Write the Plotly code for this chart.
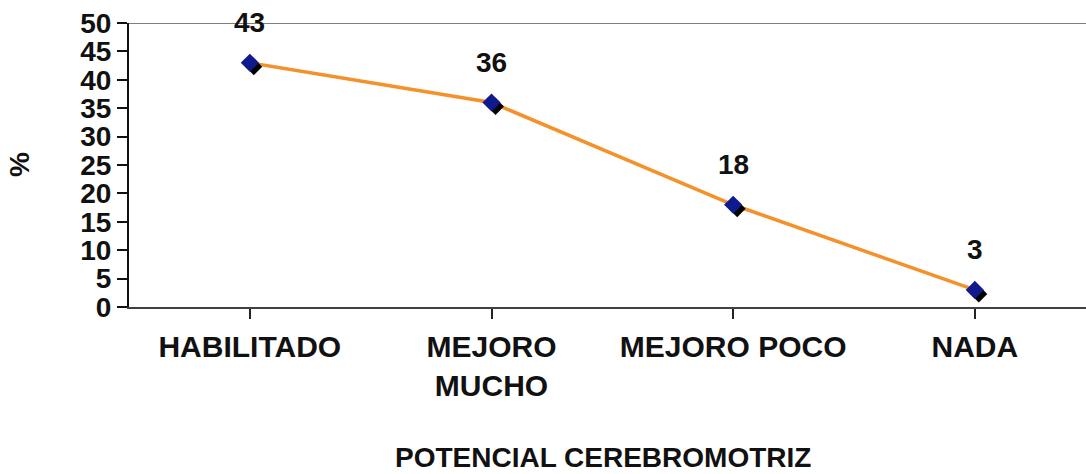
import plotly.graph_objects as go

# Potencial cerebromotriz: porcentaje por categoría
categorias = ["HABILITADO", "MEJORO<br>MUCHO", "MEJORO POCO", "NADA"]
porcentajes = [43, 36, 18, 3]
y_ticks = [0, 5, 10, 15, 20, 25, 30, 35, 40, 45, 50]

FONT = "Liberation Sans, Arial, sans-serif"
W, H = 1086, 474
M_L, M_R, M_T, M_B = 129, 0, 23, 167
X_RANGE = [-0.5, 3.46]
Y_RANGE = [0, 50]

plot_w = W - M_L - M_R
plot_h = H - M_T - M_B
px_per_x = plot_w / (X_RANGE[1] - X_RANGE[0])
px_per_y = plot_h / (Y_RANGE[1] - Y_RANGE[0])

# small drop shadow behind each marker (offset in pixels, converted to data units)
sh_dx, sh_dy = 4 / px_per_x, 4 / px_per_y
xi = list(range(len(categorias)))

fig = go.Figure()

fig.add_trace(go.Scatter(
    x=xi, y=porcentajes, mode="lines",
    line=dict(color="#F4912A", width=3.5),
    hoverinfo="skip", showlegend=False,
))
fig.add_trace(go.Scatter(
    x=[v + sh_dx for v in xi], y=[p - sh_dy for p in porcentajes], mode="markers",
    marker=dict(symbol="diamond", size=13, color="#000000"),
    hoverinfo="skip", showlegend=False, cliponaxis=False,
))
fig.add_trace(go.Scatter(
    x=xi, y=porcentajes, mode="markers",
    marker=dict(symbol="diamond", size=14, color="#0F1B8C"),
    showlegend=False, cliponaxis=False,
))

# value labels above each point
for i, p in zip(xi, porcentajes):
    fig.add_annotation(
        x=i, y=p, text=str(p), showarrow=False, yshift=40,
        font=dict(family=FONT, size=28, color="#111111", weight="bold"),
    )

# top border of the plot area
fig.add_shape(type="line", xref="paper", yref="y", x0=0, x1=1, y0=50, y1=50,
              line=dict(color="#7F7F7F", width=2), layer="below")

# axis titles
fig.add_annotation(
    xref="paper", yref="paper", x=0.495, y=0, xanchor="center", yanchor="middle",
    yshift=-150, text="POTENCIAL CEREBROMOTRIZ", showarrow=False,
    font=dict(family=FONT, size=28, color="#111111", weight="bold"),
)
fig.add_annotation(
    xref="paper", yref="paper", x=0, y=0.5, xanchor="center", yanchor="middle",
    xshift=-110, text="%", textangle=-90, showarrow=False,
    font=dict(family=FONT, size=28, color="#111111", weight="bold"),
)

fig.update_layout(
    width=W, height=H,
    margin=dict(l=M_L, r=M_R, t=M_T, b=M_B, pad=0),
    paper_bgcolor="white", plot_bgcolor="white",
    font=dict(family=FONT, color="#111111"),
)
fig.update_xaxes(
    range=X_RANGE, tickmode="array", tickvals=xi, ticktext=categorias,
    showgrid=False, zeroline=False,
    showline=True, linecolor="#404040", linewidth=2,
    ticks="outside", ticklen=10, tickcolor="#222222", tickwidth=1.5,
    tickson="boundaries", ticklabelstandoff=2,
    tickfont=dict(family=FONT, size=30, color="#111111", weight="bold"),
    tickangle=0,
)
fig.update_yaxes(
    range=Y_RANGE, tickmode="array", tickvals=y_ticks,
    showgrid=False, zeroline=False,
    showline=True, linecolor="#111111", linewidth=2,
    ticks="outside", ticklen=10, tickcolor="#111111", tickwidth=1.5,
    tickfont=dict(family=FONT, size=28, color="#111111", weight="bold"),
)

fig.write_html("out.html")
